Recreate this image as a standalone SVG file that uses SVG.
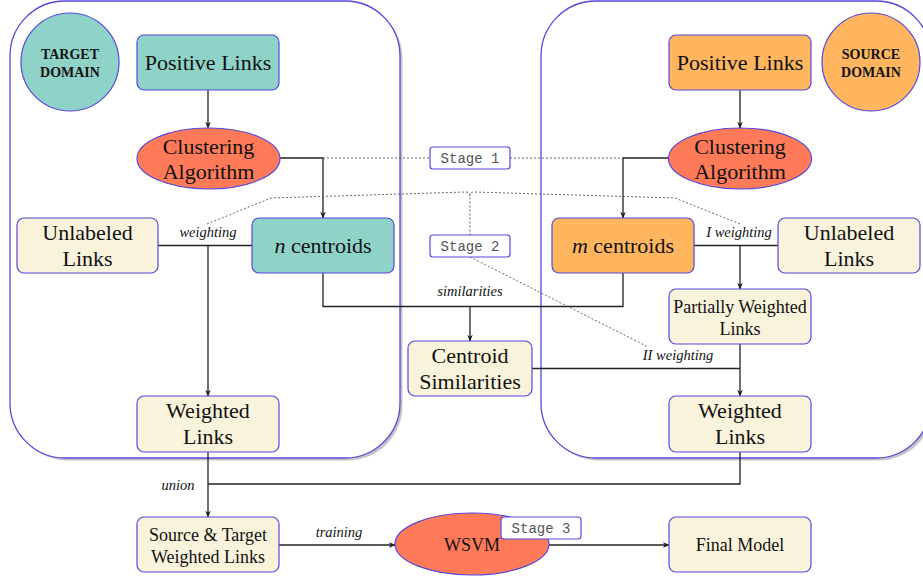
<svg xmlns="http://www.w3.org/2000/svg" width="923" height="579" viewBox="0 0 923 579">
<style>
.cont{fill:#fff;stroke:#5548dc;stroke-width:1.3}
.shadow{fill:#c4c4c4;stroke:none}
.box{stroke:#5548dc;stroke-width:1.2}
.teal{fill:#8fd3c8}
.orange{fill:#ffb65f}
.red{fill:#fe7a58}
.cream{fill:#faf3dc}
.t{font-family:"Liberation Serif","Times New Roman","DejaVu Serif",serif;fill:#111;text-anchor:middle}
.big{font-size:22px}
.mid{font-size:18px}
.dom{font-size:14px;font-weight:bold}
.lab{font-size:14.5px;font-style:italic}
.stage{font-family:"Liberation Mono","Courier New",monospace;font-size:14px;fill:#555;text-anchor:middle}
.stbox{fill:#fff;stroke:#5548dc;stroke-width:1.2}
.ln{fill:none;stroke:#222;stroke-width:1.3}
.dot{fill:none;stroke:#555;stroke-width:0.9;stroke-dasharray:2 2}
</style>
<defs>
<marker id="arr" viewBox="0 0 10 10" refX="9" refY="5" markerWidth="7" markerHeight="7" orient="auto" markerUnits="userSpaceOnUse">
<path d="M0,1 L10,5 L0,9 L3,5 Z" fill="#222"/>
</marker>
</defs>

<g id="containers">
<rect class="shadow" x="12.5" y="3.5" width="390" height="457" rx="55"/>
<rect class="cont" x="10" y="1" width="390" height="457" rx="55"/>
<rect class="shadow" x="543.5" y="3.5" width="390" height="457" rx="55"/>
<rect class="cont" x="541" y="1" width="390" height="457" rx="55"/>
</g>

<g id="connectors">
<line class="ln" x1="208" y1="90" x2="208" y2="128" marker-end="url(#arr)"/>
<line class="ln" x1="740" y1="90" x2="740" y2="128" marker-end="url(#arr)"/>
<polyline class="ln" points="280,158 323,158 323,218" marker-end="url(#arr)"/>
<polyline class="ln" points="669,158 623,158 623,218" marker-end="url(#arr)"/>
<line class="ln" x1="158" y1="245.5" x2="252" y2="245.5"/>
<line class="ln" x1="208" y1="245.5" x2="208" y2="396" marker-end="url(#arr)"/>
<line class="ln" x1="694" y1="245.5" x2="778" y2="245.5"/>
<line class="ln" x1="740" y1="245.5" x2="740" y2="289" marker-end="url(#arr)"/>
<polyline class="ln" points="323,273 323,306.5 623,306.5 623,273"/>
<line class="ln" x1="470" y1="306.5" x2="470" y2="341" marker-end="url(#arr)"/>
<line class="ln" x1="740" y1="344" x2="740" y2="396" marker-end="url(#arr)"/>
<line class="ln" x1="532" y1="368.5" x2="740" y2="368.5"/>
<line class="ln" x1="208" y1="452" x2="208" y2="517" marker-end="url(#arr)"/>
<polyline class="ln" points="740,452 740,484 208,484"/>
<line class="ln" x1="279" y1="545" x2="395" y2="545" marker-end="url(#arr)"/>
<line class="ln" x1="549" y1="545" x2="669" y2="545" marker-end="url(#arr)"/>
<line class="dot" x1="323" y1="158" x2="430" y2="158"/>
<line class="dot" x1="510" y1="158" x2="623" y2="158"/>
<path class="dot" d="M207,224 L271,198 L466,192 Q470,192 470,196 L470,235"/>
<path class="dot" d="M740,224 L675,198 L474,192 Q470,192 470,196"/>
<line class="dot" x1="470" y1="257" x2="648" y2="347"/>
<text class="t lab" x="208" y="237">weighting</text>
<text class="t lab" x="739" y="237">I weighting</text>
<text class="t lab" x="470" y="296">similarities</text>
<text class="t lab" x="678" y="360">II weighting</text>
<text class="t lab" x="178" y="490">union</text>
<text class="t lab" x="339" y="537">training</text>
</g>

<g id="target-domain">
<circle cx="70" cy="62" r="49" class="box teal"/>
<text class="t dom" x="70" y="59">TARGET</text>
<text class="t dom" x="70" y="77">DOMAIN</text>
</g>
<g id="source-domain">
<circle cx="871" cy="62" r="49" class="box orange"/>
<text class="t dom" x="871" y="59">SOURCE</text>
<text class="t dom" x="871" y="77">DOMAIN</text>
</g>

<g id="t-positive">
<rect x="137" y="35" width="142" height="55" rx="7" class="box teal"/>
<text class="t big" x="208" y="70">Positive Links</text>
</g>
<g id="s-positive">
<rect x="669" y="35" width="142" height="55" rx="7" class="box orange"/>
<text class="t big" x="740" y="70">Positive Links</text>
</g>

<g id="t-cluster">
<ellipse cx="208.5" cy="158.5" rx="71.5" ry="30.5" class="box red"/>
<text class="t big" x="208.5" y="154">Clustering</text>
<text class="t big" x="208.5" y="179">Algorithm</text>
</g>
<g id="s-cluster">
<ellipse cx="740" cy="158.5" rx="71.5" ry="30.5" class="box red"/>
<text class="t big" x="740" y="154">Clustering</text>
<text class="t big" x="740" y="179">Algorithm</text>
</g>

<g id="stage1">
<rect x="430" y="147" width="80" height="22" rx="3" class="stbox"/>
<text class="stage" x="470" y="163">Stage 1</text>
</g>
<g id="stage2">
<rect x="430" y="235" width="80" height="22" rx="3" class="stbox"/>
<text class="stage" x="470" y="251">Stage 2</text>
</g>

<g id="t-unlabeled">
<rect x="17" y="218" width="141" height="55" rx="7" class="box cream"/>
<text class="t big" x="87.5" y="240">Unlabeled</text>
<text class="t big" x="87.5" y="266">Links</text>
</g>
<g id="n-centroids">
<rect x="252" y="218" width="142" height="55" rx="7" class="box teal"/>
<text class="t big" x="323" y="253"><tspan font-style="italic">n</tspan> centroids</text>
</g>
<g id="m-centroids">
<rect x="552" y="218" width="142" height="55" rx="7" class="box orange"/>
<text class="t big" x="623" y="253"><tspan font-style="italic">m</tspan> centroids</text>
</g>
<g id="s-unlabeled">
<rect x="778" y="218" width="142" height="55" rx="7" class="box cream"/>
<text class="t big" x="849" y="240">Unlabeled</text>
<text class="t big" x="849" y="266">Links</text>
</g>

<g id="partially-weighted">
<rect x="669" y="289" width="142" height="55" rx="7" class="box cream"/>
<text class="t mid" x="740" y="313">Partially Weighted</text>
<text class="t mid" x="740" y="335">Links</text>
</g>
<g id="centroid-sim">
<rect x="408" y="341" width="124" height="55" rx="7" class="box cream"/>
<text class="t big" x="470" y="363">Centroid</text>
<text class="t big" x="470" y="389">Similarities</text>
</g>

<g id="t-weighted">
<rect x="137" y="396" width="142" height="56" rx="7" class="box cream"/>
<text class="t big" x="208" y="418">Weighted</text>
<text class="t big" x="208" y="444">Links</text>
</g>
<g id="s-weighted">
<rect x="669" y="396" width="142" height="56" rx="7" class="box cream"/>
<text class="t big" x="740" y="418">Weighted</text>
<text class="t big" x="740" y="444">Links</text>
</g>

<g id="st-weighted">
<rect x="137" y="517" width="142" height="55" rx="7" class="box cream"/>
<text class="t mid" x="208" y="541">Source &amp; Target</text>
<text class="t mid" x="208" y="563">Weighted Links</text>
</g>
<g id="wsvm">
<ellipse cx="472" cy="544" rx="77" ry="31" class="box red"/>
<text class="t mid" x="472" y="551">WSVM</text>
</g>
<g id="stage3">
<rect x="501" y="517" width="80" height="22" rx="3" class="stbox"/>
<text class="stage" x="541" y="533">Stage 3</text>
</g>
<g id="final-model">
<rect x="669" y="517" width="142" height="55" rx="7" class="box cream"/>
<text class="t mid" x="740" y="551">Final Model</text>
</g>
</svg>
